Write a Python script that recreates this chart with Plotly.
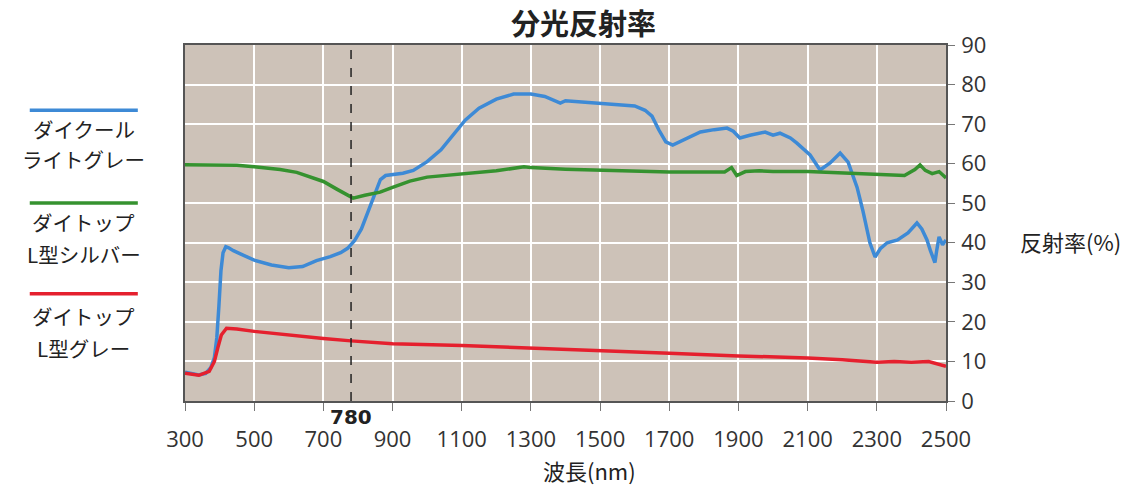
import plotly.graph_objects as go

# ---- data ----
blue_wl = [300, 320, 340, 360, 375, 385, 392, 398, 404, 410, 418, 425, 440, 460, 500, 550, 600, 640, 680, 720,
           750, 770, 790, 810, 830, 850, 865, 880, 900, 930, 960, 1000, 1040, 1080, 1110, 1150, 1200, 1250, 1300,
           1340, 1370, 1385, 1400, 1450, 1500, 1550, 1600, 1630, 1650, 1670, 1690, 1710, 1740, 1790, 1830, 1867,
           1885, 1904, 1933, 1977, 2000, 2020, 2050, 2069, 2107, 2136, 2165, 2194, 2217, 2243, 2260, 2280, 2295,
           2310, 2330, 2360, 2390, 2416, 2430, 2445, 2455, 2462, 2468, 2473, 2480, 2490, 2500]
blue_val = [7.3, 7.0, 6.6, 7.0, 8.5, 11, 16, 24, 33, 37.5, 39, 38.8, 38, 37.2, 35.6, 34.4, 33.7, 34, 35.5, 36.5,
            37.5, 38.6, 40.5, 43.5, 48, 53, 56, 57, 57.2, 57.6, 58.3, 60.5, 63.5, 67.8, 71, 74, 76.3, 77.6, 77.6,
            77, 75.8, 75.3, 75.9, 75.6, 75.3, 75.0, 74.6, 73.5, 72, 68.5, 65.5, 64.7, 66, 68, 68.6, 69,
            68.2, 66.5, 67.2, 68, 67.2, 67.7, 66.5, 65.2, 62.2, 58.4, 60.2, 62.7, 60.4, 54, 48, 40, 36.4,
            38.5, 40, 40.7, 42.5, 45, 43.5, 40.7, 38, 36.5, 35, 38, 41.5, 39.5, 40.7]

green_wl = [300, 400, 450, 500, 575, 623, 652, 700, 740, 768, 786, 820, 864, 900, 950, 1000, 1100, 1200, 1280,
            1300, 1400, 1500, 1600, 1700, 1860, 1880, 1895, 1920, 1960, 2000, 2100, 2200, 2300, 2380, 2410, 2425,
            2440, 2460, 2480, 2500]
green_val = [59.7, 59.7, 59.6, 59.2, 58.5, 57.8, 57, 55.5, 53.5, 52.2, 51.3, 52, 52.8, 54, 55.6, 56.6, 57.5, 58.2,
             59.2, 59, 58.6, 58.3, 58, 57.9, 57.9, 59, 57, 58, 58.2, 58, 58, 57.6, 57.1, 57, 58.5, 59.7,
             58.3, 57.5, 58, 56.4]

red_wl = [300, 340, 370, 385, 395, 405, 420, 450, 500, 600, 700, 780, 900, 1100, 1300, 1500, 1700, 1900, 2100,
          2200, 2300, 2350, 2400, 2450, 2480, 2500]
red_val = [7, 6.5, 7.5, 10, 13.5, 16.7, 18.4, 18.2, 17.6, 16.6, 15.8, 15.2, 14.5, 14, 13.4, 12.9, 12.1, 11.4,
           10.9, 10.4, 9.8, 10, 9.8, 10, 9.3, 8.8]

series_line1 = ["ダイクール", "ダイトップ", "ダイトップ"]
series_line2 = ["ライトグレー", "L型シルバー", "L型グレー"]
series_colors = ["#3d8ad6", "#35922f", "#e5202e"]
x_ticks = list(range(300, 2501, 200))
y_ticks = list(range(0, 91, 10))
marker_wl = 780

NUM = "Open Sans, Liberation Sans, sans-serif"
CJK = "Noto Sans CJK JP, sans-serif"

fig = go.Figure()
for wl, val, n1, n2, col in zip([blue_wl, green_wl, red_wl], [blue_val, green_val, red_val],
                                series_line1, series_line2, series_colors):
    fig.add_trace(go.Scatter(x=wl, y=val, mode="lines", name=n1 + n2,
                             line=dict(color=col, width=3.5), showlegend=False))

# dashed 780 nm marker
fig.add_shape(type="line", x0=marker_wl, x1=marker_wl, y0=0, y1=90, xref="x", yref="y",
              line=dict(color="#222", width=1.5, dash="dash"))
fig.add_annotation(x=marker_wl, y=0, xref="x", yref="y", text="<b>780</b>", showarrow=False,
                   xanchor="center", yanchor="middle", yshift=-16,
                   font=dict(family="DejaVu Sans, sans-serif", size=20, color="#222"))

# legend drawn manually on the left
leg_line_y = [0.817, 0.556, 0.301]
leg_text1_y = [0.764, 0.503, 0.239]
leg_text2_y = [0.680, 0.413, 0.149]
for n1, n2, col, ly, t1, t2 in zip(series_line1, series_line2, series_colors,
                                   leg_line_y, leg_text1_y, leg_text2_y):
    fig.add_shape(type="line", xref="paper", yref="paper", x0=-0.204, x1=-0.062, y0=ly, y1=ly,
                  line=dict(color=col, width=3.5))
    for txt, ty in ((n1, t1), (n2, t2)):
        fig.add_annotation(xref="paper", yref="paper", x=-0.133, y=ty, text=txt, showarrow=False,
                           xanchor="center", yanchor="middle", borderpad=0,
                           font=dict(family=CJK, size=20.5, color="#222"))

# title, x-axis title and y-axis title
fig.add_annotation(xref="paper", yref="paper", x=0.524, y=1.0, xanchor="center", yanchor="middle",
                   yshift=23, text="<b>分光反射率</b>", showarrow=False, borderpad=0,
                   font=dict(family=CJK, size=29, color="#222"))
fig.add_annotation(xref="paper", yref="paper", x=0.532, y=0.0, xanchor="center", yanchor="middle",
                   yshift=-69, text="波長(nm)", showarrow=False, borderpad=0,
                   font=dict(family=CJK, size=22, color="#222"))
fig.add_annotation(xref="paper", yref="paper", x=1.163, y=0.449, xanchor="center", yanchor="middle",
                   text="反射率(%)", showarrow=False,
                   font=dict(family=CJK, size=22, color="#222"))

fig.update_layout(
    width=1145, height=487,
    margin=dict(l=185, r=199, t=45, b=86, autoexpand=False),
    paper_bgcolor="white",
    plot_bgcolor="#cdc2b8",
    font=dict(family=NUM, size=22, color="#333"),
    xaxis=dict(range=[300, 2500], tickmode="array", tickvals=x_ticks, ticks="outside", ticklen=8,
               tickcolor="#777", showgrid=True, gridcolor="white", gridwidth=1.5, automargin=False,
               ticklabelstandoff=10,
               showline=True, linecolor="#555", linewidth=1.5, mirror=True, zeroline=False),
    yaxis=dict(range=[0, 90], tickmode="array", tickvals=y_ticks, side="right", ticks="outside",
               ticklen=7, tickcolor="#777", showgrid=True, gridcolor="white", gridwidth=1.5,
               automargin=False, ticklabelstandoff=2,
               showline=True, linecolor="#555", linewidth=1.5, mirror=True, zeroline=False),
)

fig.write_html("out.html", config={"displayModeBar": False},
               post_script="document.body.style.margin='0px';")
